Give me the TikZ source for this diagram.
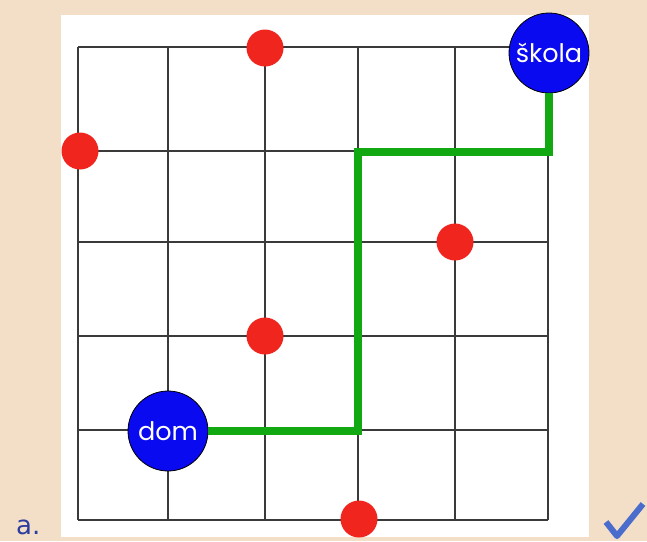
\documentclass[tikz,border=0pt]{standalone}
\usepackage{fontspec}
\newfontfamily\placefont{Poppins}
\newfontfamily\markfont{DejaVu Sans}
\definecolor{paper}{HTML}{F3DFC8}
\definecolor{gridgray}{HTML}{3A3A3A}
\definecolor{pathgreen}{HTML}{12A812}
\definecolor{stopred}{HTML}{F0261E}
\definecolor{placeblue}{HTML}{0A0AF0}
\definecolor{tickblue}{HTML}{4A6CCC}
\definecolor{labelblue}{HTML}{2B3C9E}

\begin{document}
\begin{tikzpicture}[x=1pt, y=-1pt,
	gridline/.style={draw=gridgray, line width=1.6pt},
	route/.style={draw=pathgreen, line width=8pt, line join=miter},
	stop/.style={circle, fill=stopred, minimum size=37pt, inner sep=0pt},
	place/.style={circle, fill=placeblue, draw=black, line width=0.8pt, minimum size=80pt, inner sep=0pt, text=white, font=\placefont\fontsize{25.5}{25.5}\selectfont}]
	% Background and sheet:
	\fill[paper] (0,0) rectangle (647,541);
	\useasboundingbox (0,0) rectangle (647,541);
	\fill[white] (61,15) rectangle (589,537);
	% Grid:
	\foreach \x in {78,168,265,358,455,548}
		\draw[gridline] (\x,47) -- (\x,520);
	\foreach \y in {47,151,242,336,430,520}
		\draw[gridline] (78,\y) -- (548,\y);
	% Places and stops:
	\node[place](dom) at (168,431){dom};
	\node[place](skola) at (549,53){škola};
	\node[stop](s1) at (265,48){};
	\node[stop](s2) at (80,151){};
	\node[stop](s3) at (455,242){};
	\node[stop](s4) at (265,336){};
	\node[stop](s5) at (359,519){};
	% Way to school:
	\coordinate (turnA) at (358,431);
	\coordinate (turnB) at (358,152);
	\draw[route] (dom.east) -- (turnA) -- (turnB) -| (skola.south);
	% Answer mark:
	\node[anchor=base west, text=labelblue, font=\markfont\fontsize{26}{26}\selectfont, inner sep=0pt](lbl) at (16,534){a.};
	\draw[tickblue, line width=6pt, line join=round] (606,522) -- (617,536) -- (643,504);
\end{tikzpicture}
\end{document}
